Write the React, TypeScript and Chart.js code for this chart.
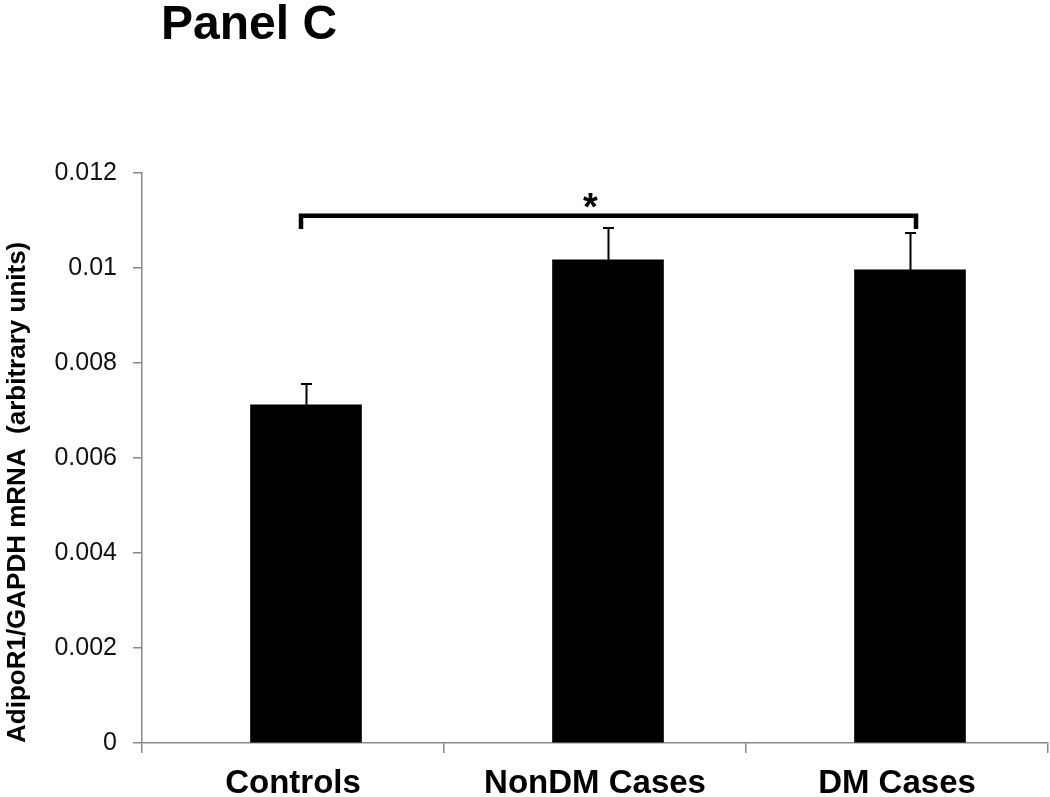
import React, { useEffect, useRef } from 'react';
import { Chart, registerables } from 'chart.js';

Chart.register(...registerables);

// ---- data ----
const categories = ['Controls', 'NonDM Cases', 'DM Cases'];
const meanValues = [0.00712, 0.01017, 0.00996];
const errorValues = [0.00044, 0.00067, 0.00078];
const yTickLabels = ['0', '0.002', '0.004', '0.006', '0.008', '0.01', '0.012'];
const panelTitle = 'Panel C';
const yAxisTitle = 'AdipoR1/GAPDH mRNA  (arbitrary units)';
const bracketGroups = [0, 2];
const bracketLevel = 0.0111;
const bracketDrop = 0.01082;
const significanceMark = '*';

const FONT = '"Liberation Sans", Arial, Helvetica, sans-serif';
const BAR_SHIFT_PX = 13; // bars sit slightly right of the category centre in the original

const overlayPlugin = {
  id: 'overlay',
  beforeDatasetsDraw(chart: any) {
    chart.ctx.save();
    chart.ctx.translate(BAR_SHIFT_PX, 0);
  },
  afterDatasetsDraw(chart: any) {
    const ctx = chart.ctx;
    ctx.restore();
    const y = chart.scales.y;
    const meta = chart.getDatasetMeta(0);
    ctx.save();
    // error bars
    ctx.strokeStyle = '#000';
    ctx.lineWidth = 2;
    ctx.lineCap = 'butt';
    meta.data.forEach((el: any, i: number) => {
      const x = Math.round(el.x + BAR_SHIFT_PX) + 0.5;
      const base = y.getPixelForValue(meanValues[i]);
      const top = Math.round(y.getPixelForValue(meanValues[i] + errorValues[i]));
      ctx.beginPath();
      ctx.moveTo(x, base);
      ctx.lineTo(x, top);
      ctx.moveTo(x - 5.5, top);
      ctx.lineTo(x + 5.5, top);
      ctx.stroke();
    });
    // significance bracket
    const x0 = meta.data[bracketGroups[0]].x + BAR_SHIFT_PX - 5;
    const x1 = meta.data[bracketGroups[1]].x + BAR_SHIFT_PX + 6;
    const yb = y.getPixelForValue(bracketLevel);
    const yd = y.getPixelForValue(bracketDrop);
    ctx.lineWidth = 4.5;
    ctx.lineJoin = 'miter';
    ctx.beginPath();
    ctx.moveTo(x0, yd);
    ctx.lineTo(x0, yb);
    ctx.lineTo(x1, yb);
    ctx.lineTo(x1, yd);
    ctx.stroke();
    ctx.fillStyle = '#000';
    ctx.font = `bold 38px ${FONT}`;
    ctx.textAlign = 'center';
    ctx.textBaseline = 'alphabetic';
    ctx.fillText(significanceMark, (x0 + x1) / 2 - 18, yb + 4.5);
    ctx.restore();
  },
  afterDraw(chart: any) {
    const ctx = chart.ctx;
    ctx.save();
    ctx.fillStyle = '#000';
    ctx.font = `bold 48px ${FONT}`;
    ctx.textAlign = 'left';
    ctx.textBaseline = 'alphabetic';
    ctx.fillText(panelTitle, 161, 39);
    ctx.restore();
  },
};

export default function App() {
  const canvasRef = useRef<HTMLCanvasElement | null>(null);

  useEffect(() => {
    if (!canvasRef.current) return;
    Chart.defaults.font.family = FONT;
    const chart = new Chart(canvasRef.current, {
      type: 'bar',
      data: {
        labels: categories,
        datasets: [
          {
            data: meanValues,
            backgroundColor: '#000',
            borderWidth: 0,
            barThickness: 111,
          },
        ],
      },
      options: {
        responsive: false,
        animation: false,
        events: [],
        layout: { padding: { left: 0, top: 173, right: 2, bottom: 0 } },
        plugins: {
          legend: { display: false },
          tooltip: { enabled: false },
          title: { display: false },
        },
        scales: {
          x: {
            type: 'category',
            position: 'bottom',
            offset: true,
            afterFit: (s: any) => {
              s.height = 54;
            },
            grid: {
              offset: true,
              drawOnChartArea: false,
              drawTicks: true,
              tickLength: 10,
              color: '#888',
              lineWidth: 1.5,
            },
            border: { display: true, color: '#888', width: 1.5 },
            ticks: {
              color: '#000',
              font: { size: 33, weight: 'bold' },
              padding: 11,
              maxRotation: 0,
              minRotation: 0,
              autoSkip: false,
            },
          },
          y: {
            type: 'linear',
            position: 'left',
            min: 0,
            max: 0.012,
            afterFit: (s: any) => {
              s.width = 142;
            },
            grid: {
              drawOnChartArea: false,
              drawTicks: true,
              tickLength: 9,
              color: '#888',
              lineWidth: 1.5,
            },
            border: { display: true, color: '#888', width: 1.5 },
            ticks: {
              stepSize: 0.002,
              color: '#111',
              font: { size: 25 },
              padding: 16,
              callback: (_v: any, i: number) => yTickLabels[i],
            },
            title: {
              display: true,
              text: yAxisTitle,
              align: 'start',
              color: '#000',
              font: { size: 26, weight: 'bold' },
              padding: { top: 2, bottom: 0 },
            },
          },
        },
      },
      plugins: [overlayPlugin],
    } as any);
    return () => chart.destroy();
  }, []);

  return (
    <div style={{ position: 'absolute', left: 0, top: 0, width: 1050, height: 797, background: '#fff' }}>
      <canvas ref={canvasRef} width={1050} height={797} style={{ display: 'block', width: 1050, height: 797 }} />
    </div>
  );
}
